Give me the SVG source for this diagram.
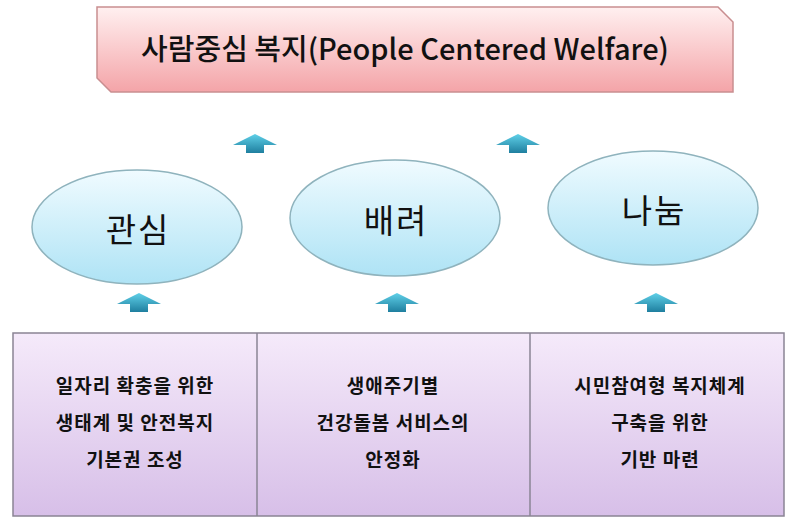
<svg xmlns="http://www.w3.org/2000/svg" width="787" height="519" viewBox="0 0 787 519">
<defs>
<linearGradient id="gTop" x1="0" y1="0" x2="0" y2="1"><stop offset="0" stop-color="#fff0f0"/><stop offset="1" stop-color="#f4a4a8"/></linearGradient>
<linearGradient id="gEll" x1="0" y1="0" x2="0" y2="1"><stop offset="0" stop-color="#f0fbff"/><stop offset="1" stop-color="#aee3f5"/></linearGradient>
<linearGradient id="gBox" x1="0" y1="0" x2="0" y2="1"><stop offset="0" stop-color="#f5eafa"/><stop offset="1" stop-color="#d7bfe8"/></linearGradient>
<linearGradient id="gArr" x1="0" y1="0" x2="0" y2="1"><stop offset="0" stop-color="#5fd0e8"/><stop offset="1" stop-color="#1f7f9f"/></linearGradient>
<path id="arr" d="M-22,2 L0,-9 L22,2 L9,2 L9,10 L-9,10 L-9,2 Z" fill="url(#gArr)"/>
</defs>
<style>
text{font-family:"Noto Sans CJK KR","Liberation Sans",sans-serif;fill:#111;text-anchor:middle}
.title{font-size:29px;font-weight:500}
.ell{fill:url(#gEll);stroke:#8fb3bd;stroke-width:1.5}
.big{font-size:33px;letter-spacing:2px}
.sm{font-size:19px;font-weight:700;letter-spacing:1px}
</style>
<rect width="787" height="519" fill="#ffffff"/>
<g id="top">
<path d="M97,7 L718,7 L733,22 L733,92 L111,92 L97,78 Z" fill="url(#gTop)" stroke="#c98e90" stroke-width="1.5"/>
<text class="title" x="405" y="60">사람중심 복지(People Centered Welfare)</text>
</g>
<g id="connectors">
<use href="#arr" x="255" y="143"/>
<use href="#arr" x="518" y="143"/>
<use href="#arr" x="139" y="302"/>
<use href="#arr" x="397" y="302"/>
<use href="#arr" x="656" y="302"/>
</g>
<g id="n1"><ellipse class="ell" cx="137" cy="227" rx="105" ry="57"/><text class="big" x="138" y="242">관심</text></g>
<g id="n2"><ellipse class="ell" cx="395" cy="218" rx="105" ry="58"/><text class="big" x="396" y="233">배려</text></g>
<g id="n3"><ellipse class="ell" cx="653" cy="208" rx="105" ry="57"/><text class="big" x="654" y="223">나눔</text></g>
<g id="bottom">
<rect x="13" y="333" width="771" height="183" fill="url(#gBox)" stroke="#8a8494" stroke-width="1.5"/>
<line x1="257" y1="333" x2="257" y2="516" stroke="#8a8494" stroke-width="1.5"/>
<line x1="530" y1="333" x2="530" y2="516" stroke="#8a8494" stroke-width="1.5"/>
</g>
<g id="c1"><text class="sm" x="135" y="393">일자리 확충을 위한</text><text class="sm" x="135" y="430">생태계 및 안전복지</text><text class="sm" x="135" y="467">기본권 조성</text></g>
<g id="c2"><text class="sm" x="393" y="393">생애주기별</text><text class="sm" x="393" y="430">건강돌봄 서비스의</text><text class="sm" x="393" y="467">안정화</text></g>
<g id="c3"><text class="sm" x="660" y="393">시민참여형 복지체계</text><text class="sm" x="660" y="430">구축을 위한</text><text class="sm" x="660" y="467">기반 마련</text></g>
</svg>
